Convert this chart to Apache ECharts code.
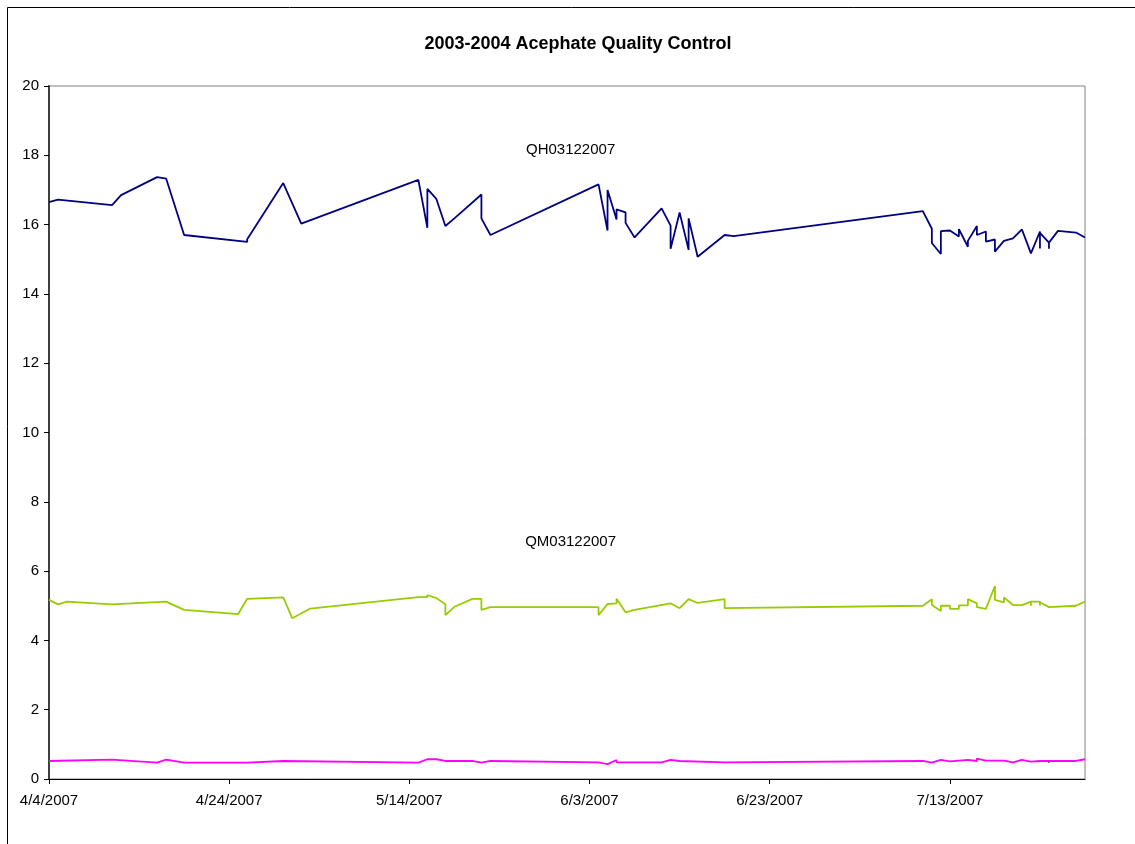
<!DOCTYPE html>
<html>
<head>
<meta charset="utf-8">
<title>2003-2004 Acephate Quality Control</title>
<script src="https://cdn.jsdelivr.net/npm/echarts@6/dist/echarts.min.js"></script>
<style>
  html, body { margin: 0; padding: 0; background: #fff; }
  #chartQC { width: 1135px; height: 844px; }
</style>
</head>
<body>
<div id="chartQC"></div>
<script>
// dates as they appear on the x axis (M/D/YYYY)
const qhDates = ['4/4/2007','4/5/2007','4/11/2007','4/12/2007','4/16/2007','4/17/2007','4/19/2007','4/26/2007','4/26/2007','4/30/2007',
  '5/2/2007','5/15/2007','5/16/2007','5/16/2007','5/17/2007','5/18/2007','5/19/2007','5/22/2007','5/22/2007','5/23/2007',
  '6/4/2007','6/5/2007','6/5/2007','6/6/2007','6/6/2007','6/7/2007','6/7/2007','6/8/2007','6/11/2007','6/12/2007',
  '6/12/2007','6/13/2007','6/14/2007','6/14/2007','6/15/2007','6/18/2007','6/19/2007','7/10/2007','7/11/2007','7/11/2007',
  '7/12/2007','7/12/2007','7/13/2007','7/14/2007','7/14/2007','7/15/2007','7/15/2007','7/16/2007','7/16/2007','7/17/2007',
  '7/17/2007','7/18/2007','7/18/2007','7/19/2007','7/20/2007','7/21/2007','7/22/2007','7/23/2007','7/23/2007','7/23/2007',
  '7/24/2007','7/24/2007','7/24/2007','7/25/2007','7/27/2007','7/28/2007'];
const qhValues = [16.65,16.72,16.56,16.85,17.37,17.33,15.70,15.50,15.58,17.20,
  16.03,17.29,15.91,17.03,16.74,15.96,16.18,16.87,16.18,15.70,
  17.16,15.83,17.00,16.15,16.44,16.35,16.05,15.63,16.47,15.97,
  15.30,16.35,15.27,16.18,15.07,15.70,15.67,16.39,15.88,15.47,
  15.15,15.81,15.83,15.66,15.87,15.36,15.53,15.96,15.70,15.80,
  15.51,15.57,15.22,15.53,15.60,15.86,15.17,15.80,15.31,15.76,
  15.48,15.30,15.48,15.82,15.77,15.63];

const qmDates = ['4/4/2007','4/5/2007','4/6/2007','4/11/2007','4/17/2007','4/19/2007','4/25/2007','4/26/2007','4/30/2007','5/1/2007',
  '5/3/2007','5/15/2007','5/16/2007','5/16/2007','5/17/2007','5/18/2007','5/18/2007','5/19/2007','5/21/2007','5/22/2007',
  '5/22/2007','5/23/2007','6/4/2007','6/4/2007','6/5/2007','6/6/2007','6/6/2007','6/7/2007','6/8/2007','6/12/2007',
  '6/13/2007','6/14/2007','6/15/2007','6/18/2007','6/18/2007','7/10/2007','7/11/2007','7/11/2007','7/12/2007','7/12/2007',
  '7/13/2007','7/13/2007','7/14/2007','7/14/2007','7/15/2007','7/15/2007','7/16/2007','7/16/2007','7/17/2007','7/18/2007',
  '7/18/2007','7/19/2007','7/19/2007','7/20/2007','7/21/2007','7/22/2007','7/22/2007','7/22/2007','7/23/2007','7/23/2007',
  '7/23/2007','7/24/2007','7/27/2007','7/28/2007'];
const qmValues = [5.17,5.04,5.12,5.04,5.12,4.88,4.76,5.20,5.24,4.64,
  4.92,5.25,5.25,5.31,5.22,5.04,4.73,4.97,5.20,5.20,
  4.88,4.96,4.96,4.73,5.05,5.07,5.20,4.81,4.88,5.07,
  4.93,5.19,5.08,5.19,4.93,5.00,5.19,5.02,4.85,5.00,
  5.00,4.91,4.91,5.01,5.01,5.19,5.07,4.96,4.91,5.57,
  5.17,5.10,5.24,5.02,5.02,5.12,5.00,5.12,5.12,5.00,
  5.10,4.96,5.00,5.12];

const qlDates = ['4/4/2007','4/11/2007','4/16/2007','4/17/2007','4/19/2007','4/26/2007','4/30/2007','5/15/2007','5/15/2007','5/16/2007',
  '5/17/2007','5/17/2007','5/18/2007','5/18/2007','5/21/2007','5/22/2007','5/23/2007','6/4/2007','6/5/2007','6/6/2007',
  '6/6/2007','6/11/2007','6/12/2007','6/13/2007','6/13/2007','6/18/2007','6/18/2007','7/10/2007','7/11/2007','7/12/2007',
  '7/13/2007','7/15/2007','7/16/2007','7/16/2007','7/17/2007','7/19/2007','7/19/2007','7/20/2007','7/21/2007','7/21/2007',
  '7/22/2007','7/22/2007','7/22/2007','7/23/2007','7/24/2007','7/24/2007','7/24/2007','7/27/2007','7/28/2007'];
const qlValues = [0.52,0.56,0.47,0.56,0.47,0.47,0.52,0.47,0.44,0.57,
  0.57,0.52,0.52,0.47,0.52,0.47,0.52,0.48,0.43,0.55,
  0.48,0.48,0.55,0.52,0.48,0.48,0.52,0.52,0.47,0.55,
  0.51,0.55,0.52,0.59,0.53,0.53,0.48,0.48,0.55,0.50,
  0.50,0.45,0.50,0.52,0.52,0.46,0.52,0.52,0.57];

const startDate = '4/4/2007';
const endDate = '7/28/2007';

// day number counted from 4/4/2007, so the 20-day ticks start at the first date
const dayMs = 86400000;
const toUtc = (s) => {
  const p = s.split('/');
  return Date.UTC(+p[2], +p[0] - 1, +p[1]);
}
const base = toUtc(startDate);
const toDay = (s) => (toUtc(s) - base) / dayMs;
const dayLabel = (n) => {
  const d = new Date(base + n * dayMs);
  return (d.getUTCMonth() + 1) + '/' + d.getUTCDate() + '/' + d.getUTCFullYear();
}
const pairs = (dates, values) => dates.map((d, i) => [toDay(d), values[i]]);

const font = '"Liberation Sans", Arial, sans-serif';

const myChart = echarts.init(document.getElementById('chartQC'));
let option = {}
option = {
  animation: false,
  textStyle: { fontFamily: font },
  title: {
    text: '2003-2004 Acephate Quality Control',
    left: 573,
    top: 30,
    textAlign: 'center',
    textStyle: { fontFamily: font, fontSize: 18, fontWeight: 'bold', color: '#000' }
  },
  graphic: [
    {
      type: 'rect',
      silent: true,
      shape: { x: 7.5, y: 7.5, width: 1200, height: 900 },
      style: { fill: 'none', stroke: '#000', lineWidth: 1 }
    }
  ],
  grid: {
    left: 49,
    right: 50,
    top: 86,
    bottom: 65,
    show: true,
    borderColor: '#808080',
    borderWidth: 1
  },
  xAxis: {
    type: 'value',
    min: 0,
    max: toDay(endDate),
    interval: 20,
    splitLine: { show: false },
    axisLine: { show: true, lineStyle: { color: '#000', width: 1 } },
    axisTick: { show: true, length: 5, lineStyle: { color: '#000' } },
    axisLabel: {
      margin: 14,
      fontSize: 15,
      color: '#000',
      fontFamily: font,
      showMaxLabel: false,
      formatter: (v) => dayLabel(v)
    }
  },
  yAxis: {
    type: 'value',
    min: 0,
    max: 20,
    interval: 2,
    splitLine: { show: false },
    axisLine: { show: true, lineStyle: { color: '#404040', width: 2 } },
    axisTick: { show: true, length: 5, lineStyle: { color: '#000' } },
    axisLabel: { margin: 10, fontSize: 15, color: '#000', fontFamily: font }
  },
  series: [
    {
      name: 'QH03122007',
      type: 'line',
      data: pairs(qhDates, qhValues),
      showSymbol: false,
      color: '#000080',
      lineStyle: { width: 1.8 },
      markPoint: {
        symbol: 'circle',
        symbolSize: 0,
        label: { show: true, position: 'inside', formatter: '{a}', color: '#000', fontSize: 15, fontFamily: font },
        data: [{ coord: [57.9, 18.15] }]
      }
    },
    {
      name: 'QM03122007',
      type: 'line',
      data: pairs(qmDates, qmValues),
      showSymbol: false,
      color: '#99CC00',
      lineStyle: { width: 1.8 },
      markPoint: {
        symbol: 'circle',
        symbolSize: 0,
        label: { show: true, position: 'inside', formatter: '{a}', color: '#000', fontSize: 15, fontFamily: font },
        data: [{ coord: [57.9, 6.84] }]
      }
    },
    {
      name: 'QL03122007',
      type: 'line',
      data: pairs(qlDates, qlValues),
      showSymbol: false,
      color: '#FF00FF',
      lineStyle: { width: 1.8 }
    }
  ]
};
option && myChart.setOption(option);
</script>
</body>
</html>
